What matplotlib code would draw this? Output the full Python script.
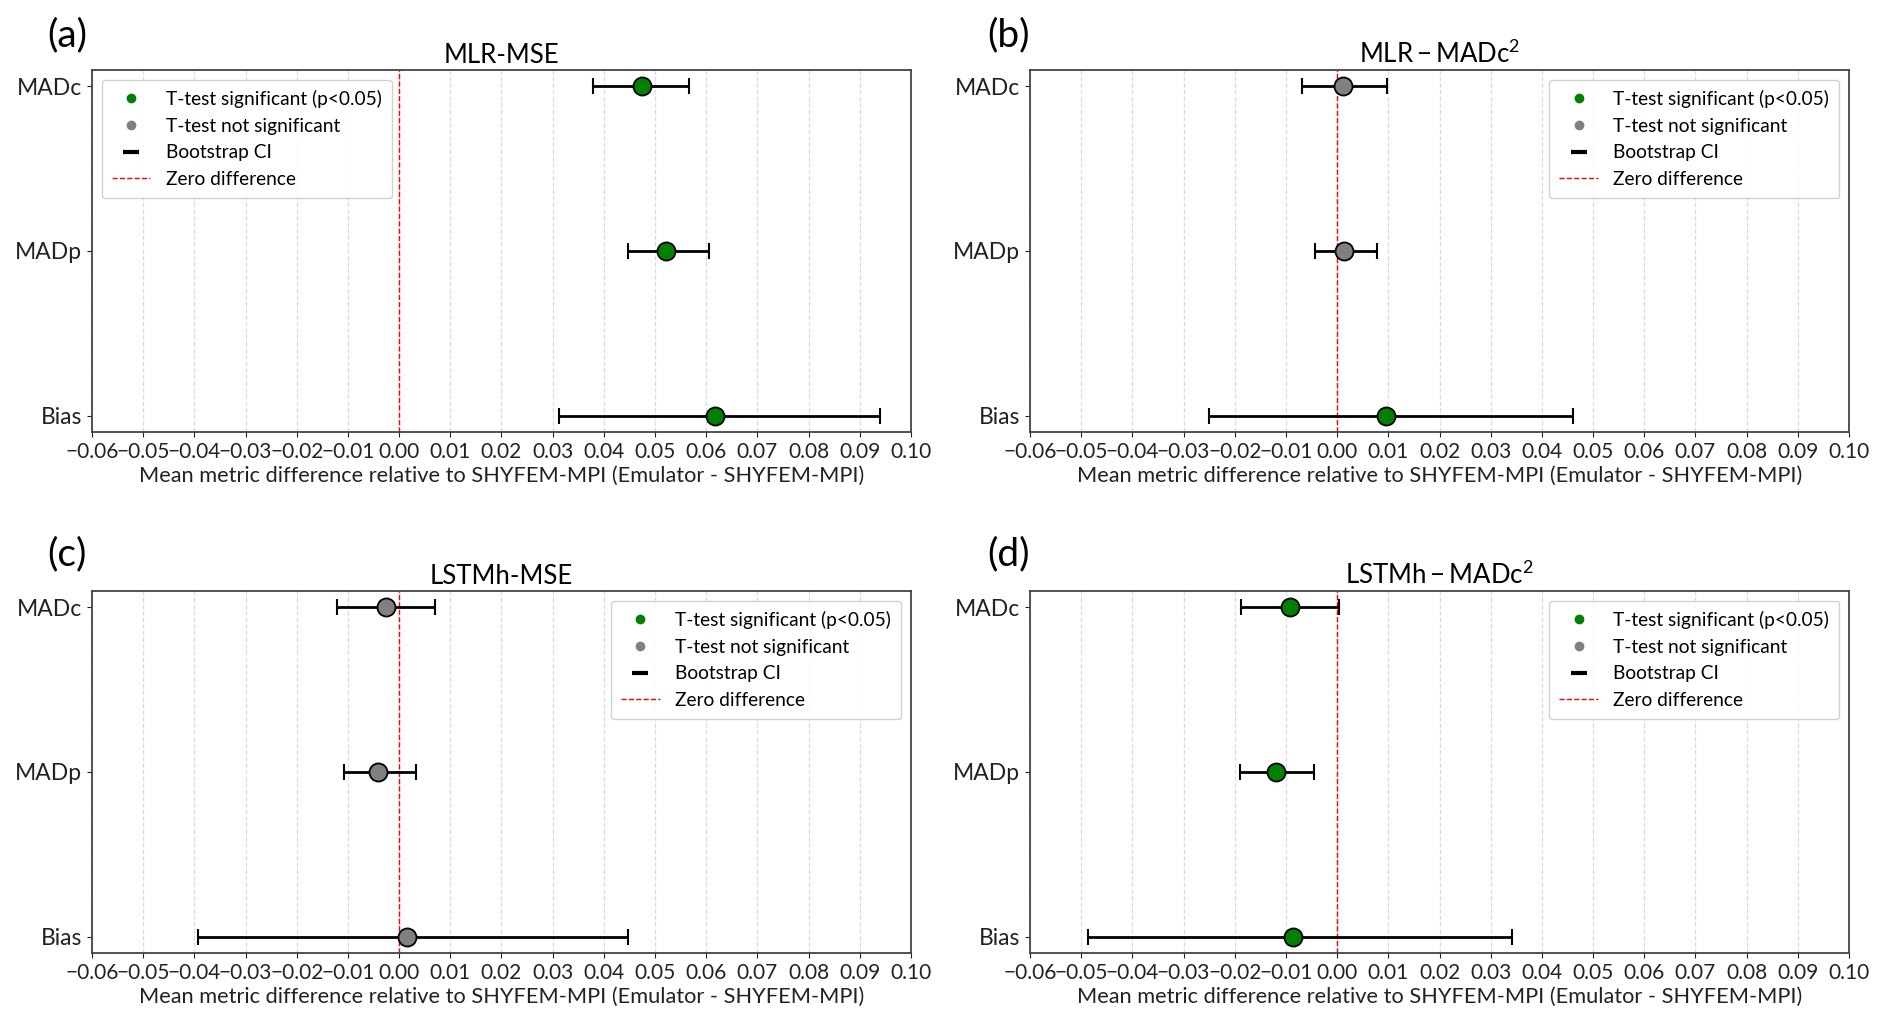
import matplotlib
matplotlib.use("Agg")
import matplotlib.pyplot as plt
import numpy as np
from matplotlib.lines import Line2D
from matplotlib.ticker import MultipleLocator, FuncFormatter

plt.rcParams['font.family'] = ['Lato', 'DejaVu Sans']
plt.rcParams['mathtext.fontset'] = 'custom'
plt.rcParams['mathtext.rm'] = 'Lato'
plt.rcParams['mathtext.it'] = 'Lato:italic'

# metrics, top to bottom
metrics = ["MADc", "MADp", "Bias"]

titles = ["MLR-MSE", r"$\mathrm{MLR-MADc^2}$", "LSTMh-MSE", r"$\mathrm{LSTMh-MADc^2}$"]
panel_labels = ["(a)", "(b)", "(c)", "(d)"]

# mean difference per metric
mlr_mse_mean = [0.0475, 0.0521, 0.0617]
mlr_mad_mean = [0.0012, 0.0013, 0.0095]
lstm_mse_mean = [-0.0025, -0.0041, 0.0015]
lstm_mad_mean = [-0.0093, -0.0119, -0.0086]

# bootstrap CI lower / upper
mlr_mse_lo = [0.0378, 0.0448, 0.0313]
mlr_mse_hi = [0.0566, 0.0605, 0.0940]
mlr_mad_lo = [-0.0069, -0.0044, -0.0251]
mlr_mad_hi = [0.0097, 0.0077, 0.0461]
lstm_mse_lo = [-0.0121, -0.0108, -0.0392]
lstm_mse_hi = [0.0070, 0.0034, 0.0447]
lstm_mad_lo = [-0.0188, -0.0190, -0.0487]
lstm_mad_hi = [0.0004, -0.0045, 0.0342]

# t-test significance
mlr_mse_sig = [True, True, True]
mlr_mad_sig = [False, False, True]
lstm_mse_sig = [False, False, False]
lstm_mad_sig = [True, True, True]

means = [mlr_mse_mean, mlr_mad_mean, lstm_mse_mean, lstm_mad_mean]
los = [mlr_mse_lo, mlr_mad_lo, lstm_mse_lo, lstm_mad_lo]
his = [mlr_mse_hi, mlr_mad_hi, lstm_mse_hi, lstm_mad_hi]
sigs = [mlr_mse_sig, mlr_mad_sig, lstm_mse_sig, lstm_mad_sig]
legend_locs = ["upper left", "upper right", "upper right", "upper right"]


def fmt_tick(v, pos):
    s = "%.2f" % v
    if s.startswith("-"):
        s = "\u2212" + s[1:]
    if s == "\u22120.00":
        s = "0.00"
    return s


fig = plt.figure(figsize=(18.92, 10.28), dpi=100)
rects = [[0.0486, 0.5798, 0.4329, 0.3521], [0.5444, 0.5798, 0.4329, 0.3521],
         [0.0486, 0.0730, 0.4329, 0.3521], [0.5444, 0.0730, 0.4329, 0.3521]]
label_pos = [(0.025, 0.966), (0.522, 0.966), (0.025, 0.461), (0.522, 0.461)]

for k in range(4):
    ax = fig.add_axes(rects[k])
    y = np.arange(len(metrics))
    m = np.array(means[k])
    err = [m - np.array(los[k]), np.array(his[k]) - m]
    ax.errorbar(m, y, xerr=err, fmt='none', ecolor='black', elinewidth=2,
                capsize=6, capthick=1.5, zorder=2)
    for i in range(len(metrics)):
        c = 'green' if sigs[k][i] else 'grey'
        ax.plot(m[i], y[i], 'o', color=c, markersize=13, markeredgecolor='black',
                markeredgewidth=1.3, zorder=3)
    ax.axvline(0, color='red', linestyle='--', linewidth=1, zorder=1)
    ax.set_yticks(y)
    ax.set_yticklabels(metrics)
    ax.invert_yaxis()
    ax.set_xlim(-0.06, 0.10)
    ax.xaxis.set_major_locator(MultipleLocator(0.01))
    ax.xaxis.set_major_formatter(FuncFormatter(fmt_tick))
    ax.grid(axis='x', linestyle='--', color='lightgrey', alpha=0.8, linewidth=0.9)
    ax.set_axisbelow(True)
    ax.tick_params(axis='x', labelsize=15, colors='#222222')
    ax.tick_params(axis='y', labelsize=16.5, colors='#222222')
    for s in ax.spines.values():
        s.set_color('#444444')
        s.set_linewidth(1.3)
    ax.set_xlabel("Mean metric difference relative to SHYFEM-MPI (Emulator - SHYFEM-MPI)",
                  fontsize=15.7, color='#222222', labelpad=3)
    ax.set_title(titles[k], fontsize=18.5, pad=5)
    handles = [
        Line2D([], [], marker='o', color='green', linestyle='none', markersize=6),
        Line2D([], [], marker='o', color='grey', linestyle='none', markersize=6),
        Line2D([], [], marker='_', color='black', linestyle='none', markersize=12,
               markeredgewidth=3),
        Line2D([], [], color='red', linestyle='--', linewidth=1),
    ]
    ax.legend(handles, ["T-test significant (p<0.05)", "T-test not significant",
                        "Bootstrap CI", "Zero difference"],
              loc=legend_locs[k], fontsize=13.8, framealpha=0.9, borderpad=0.55,
              labelspacing=0.5)
    fig.text(label_pos[k][0], label_pos[k][1], panel_labels[k], fontsize=28,
             va='center', ha='left')

plt.savefig("out.png", dpi=100)
